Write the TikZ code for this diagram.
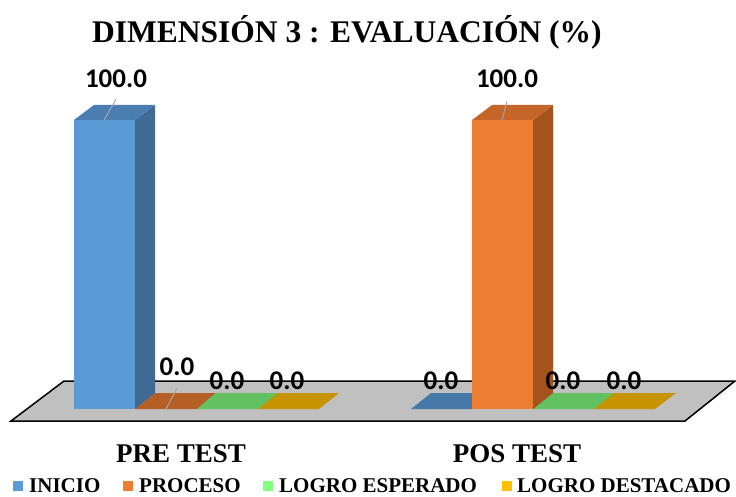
\documentclass[tikz,border=0pt]{standalone}
\usepackage{fontspec}
\setmainfont{Liberation Serif}
\newfontfamily\labfont{Carlito}
\definecolor{blueF}{HTML}{5B9BD5}
\definecolor{blueS}{HTML}{3E6A93}
\definecolor{blueT}{HTML}{4A7DB0}
\definecolor{blueFlat}{HTML}{4679A8}
\definecolor{orangeF}{HTML}{ED7D31}
\definecolor{orangeS}{HTML}{A5531C}
\definecolor{orangeT}{HTML}{C5652A}
\definecolor{orangeFlat}{HTML}{B65F24}
\definecolor{greenFlat}{HTML}{62C262}
\definecolor{yellowFlat}{HTML}{C59400}
\definecolor{legBlue}{HTML}{5B9BD5}
\definecolor{legOrange}{HTML}{ED7D31}
\definecolor{legGreen}{HTML}{80FF80}
\definecolor{legYellow}{HTML}{FFC000}
\definecolor{floorC}{HTML}{C0C0C0}
\definecolor{leaderC}{HTML}{A6A6A6}
\tikzset{
  floorstyle/.style={fill=floorC, draw=black, line width=1.5pt, line join=miter},
  val/.style={font=\labfont\bfseries\fontsize{27}{27}\selectfont, inner sep=0pt, anchor=base},
  cat/.style={font=\bfseries\fontsize{27}{27}\selectfont, inner sep=0pt, anchor=base},
  leg/.style={font=\bfseries\fontsize{21}{21}\selectfont, inner sep=0pt, anchor=base west, text depth=0pt},
  legsq/.style={minimum size=10pt, inner sep=0pt, draw=none},
  leader/.style={draw=leaderC, line width=1pt}
}
\begin{document}
\begin{tikzpicture}[x=1pt,y=-1pt]
\useasboundingbox (0,0) rectangle (736,497);
\fill[white] (0,0) rectangle (736,497);
% title
\node[inner sep=0pt, anchor=base, font=\bfseries\fontsize{31.5}{31.5}\selectfont] (title) at (347,43) {DIMENSIÓN 3 : EVALUACIÓN (\%)};
% floor
\draw[floorstyle] (11,421) -- (685,421) -- (735,381) -- (64,381) -- cycle;
% flat bars PRE TEST
\fill[orangeFlat] (135,409) -- (197,409) -- (216,393) -- (155,393) -- cycle;
\fill[greenFlat] (197,409) -- (258,409) -- (278,393) -- (216,393) -- cycle;
\fill[yellowFlat] (258,409) -- (319,409) -- (339,393) -- (278,393) -- cycle;
% flat bars POS TEST
\fill[blueFlat] (411,409) -- (472,409) -- (492,393) -- (431,393) -- cycle;
\fill[greenFlat] (533,409) -- (594,409) -- (614,393) -- (553,393) -- cycle;
\fill[yellowFlat] (594,409) -- (655,409) -- (676,393) -- (614,393) -- cycle;
% tall bar PRE TEST (INICIO)
\fill[blueF] (74,120) rectangle (135,409);
\fill[blueS] (135,409) -- (155,393) -- (155,105) -- (135,120) -- cycle;
\fill[blueT] (74,120) -- (135,120) -- (155,105) -- (94,105) -- cycle;
% tall bar POS TEST (PROCESO)
\fill[orangeF] (472,120) rectangle (533,409);
\fill[orangeS] (533,409) -- (553,393) -- (553,105) -- (533,120) -- cycle;
\fill[orangeT] (472,120) -- (533,120) -- (553,105) -- (492,105) -- cycle;
% value labels
\node[val] (v1) at (116,88) {100.0};
\node[val] (v2) at (177,375) {0.0};
\node[val] (v3) at (227,389) {0.0};
\node[val] (v4) at (287,389) {0.0};
\node[val] (v5) at (441,389) {0.0};
\node[val] (v6) at (507,88) {100.0};
\node[val] (v7) at (563,389) {0.0};
\node[val] (v8) at (624,389) {0.0};
\coordinate (t1) at (104,120);
\coordinate (t2) at (166,409);
\coordinate (t6) at (502,120);
\draw[leader] ([yshift=-11pt]v1.south) -- (t1);
\draw[leader] ([yshift=-13pt]v2.south) -- (t2);
\draw[leader] ([yshift=-13pt]v6.south) -- (t6);
% category labels
\node[cat] (c1) at (181,462) {PRE TEST};
\node[cat] (c2) at (517,462) {POS TEST};
% legend
\node[legsq, fill=legBlue] (s1) at (18,486) {};
\node[leg] (l1) at (29,492) {INICIO};
\node[legsq, fill=legOrange] (s2) at (128,486) {};
\node[leg] (l2) at (139,492) {PROCESO};
\node[legsq, fill=legGreen] (s3) at (268,486) {};
\node[leg] (l3) at (279,492) {LOGRO ESPERADO};
\node[legsq, fill=legYellow] (s4) at (507,486) {};
\node[leg] (l4) at (517,492) {LOGRO DESTACADO};
\end{tikzpicture}
\end{document}
